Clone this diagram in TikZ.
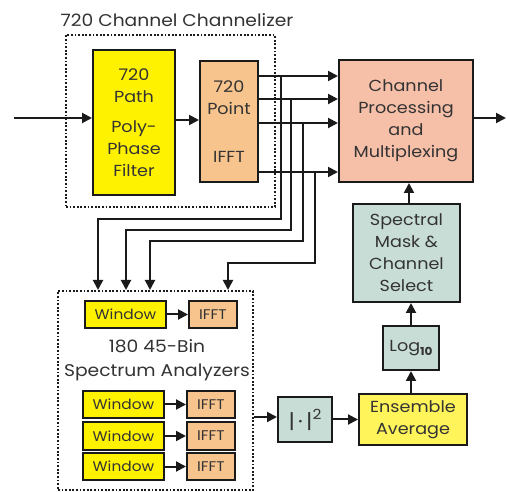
\documentclass[tikz,border=0pt]{standalone}
\usepackage{fontspec}
\setmainfont{Poppins}[FakeStretch=1.1]
\usetikzlibrary{arrows.meta,calc}
\definecolor{yel}{HTML}{FFF200}
\definecolor{yel2}{HTML}{FFF45A}
\definecolor{org}{HTML}{F7C48E}
\definecolor{sal}{HTML}{F6BFA8}
\definecolor{teal}{HTML}{C8DDD6}
\definecolor{txt}{HTML}{333333}
\definecolor{ln}{HTML}{1A1A1A}
\begin{document}
\begin{tikzpicture}[x=1pt,y=-1pt,
  box/.style={draw=ln,line width=2pt,inner sep=0pt,align=center,text=txt,font=\fontsize{16}{22}\selectfont},
  sbox/.style={draw=ln,line width=2pt,inner sep=0pt,align=center,text=txt,font=\fontsize{14}{15}\selectfont,minimum height=27pt},
  arr/.style={draw=ln,line width=2pt,-{Triangle[length=10pt,width=10pt]}},
  dots/.style={draw=ln,line width=2pt,dash pattern=on 1.8pt off 1.8pt},
  lbl/.style={text=txt,font=\fontsize{17}{24}\selectfont,inner sep=0pt,align=center}]
\useasboundingbox (0,0) rectangle (507,492);
% dotted groups
\node[dots,minimum width=209pt,minimum height=172pt,inner sep=0pt] (chan) at (170.5,121) {};
\node[dots,minimum width=195pt,minimum height=199pt,inner sep=0pt] (ana) at (155.5,390.5) {};
\node[lbl] (chant) at (177,20) {720 Channel Channelizer};
\node[lbl] (anat) at (157,360) {180 45-Bin\\Spectrum Analyzers};
% main boxes
\node[box,fill=yel,minimum width=82pt,minimum height=145pt] (pp) at (134,122.5) {720\\Path\\[8pt]Poly-\\Phase\\Filter};
\node[box,fill=org,minimum width=58pt,minimum height=121pt] (ifft) at (229,121.5) {720\\Point\\[26pt]IFFT};
\node[box,fill=sal,minimum width=134pt,minimum height=122pt] (cp) at (406,121) {Channel\\Processing\\and\\Multiplexing};
\node[box,fill=teal,minimum width=107pt,minimum height=98pt] (sm) at (406.5,253) {Spectral\\Mask \&\\Channel\\Select};
\node[box,fill=teal,minimum width=56pt,minimum height=44pt] (log) at (411,348) {Log\raisebox{-4pt}{\fontsize{11}{11}\selectfont\bfseries 10}};
\node[box,fill=yel2,minimum width=108pt,minimum height=51pt] (ea) at (413,419.5) {Ensemble\\Average};
\node[box,fill=teal,minimum width=54pt,minimum height=45pt,font=\fontsize{20}{22}\selectfont] (sq) at (305,419.5) {|\,·\,|\raisebox{9pt}{\fontsize{14}{14}\selectfont 2}};
% small boxes
\node[sbox,fill=yel,minimum width=81pt] (w1) at (125.5,314.5) {Window};
\node[sbox,fill=org,minimum width=48pt] (f1) at (213,314.5) {IFFT};
\node[sbox,fill=yel,minimum width=81pt] (w2) at (123.5,404.5) {Window};
\node[sbox,fill=org,minimum width=48pt] (f2) at (211,404.5) {IFFT};
\node[sbox,fill=yel,minimum width=81pt] (w3) at (123.5,436) {Window};
\node[sbox,fill=org,minimum width=48pt] (f3) at (211,436) {IFFT};
\node[sbox,fill=yel,minimum width=81pt] (w4) at (123.5,466.5) {Window};
\node[sbox,fill=org,minimum width=48pt] (f4) at (211,466.5) {IFFT};
\foreach \i in {1,...,4} {\draw[arr] (w\i) -- (f\i);}
% input / output
\coordinate (in) at (14,118);
\coordinate (out) at (506,118);
\draw[arr] (in) -- (pp.west |- in);
\draw[arr] (pp.east |- 0,120) -- (ifft.west |- 0,120);
\draw[arr] (cp.east |- out) -- (out);
% ifft to cp
\foreach \y in {76,99,123,172} {\draw[arr] (ifft.east |- 0,\y) -- (cp.west |- 0,\y);}
% branches
\coordinate (j1) at (281,76);
\coordinate (j2) at (291,99);
\coordinate (j3) at (303,123);
\coordinate (j4) at (315,172);
\draw[arr] (j1) -- (281,219) -- (98,219) -- (98,219 |- ana.north);
\draw[arr] (j2) -- (291,230) -- (126,230) -- (126,230 |- ana.north);
\draw[arr] (j3) -- (303,241) -- (150,241) -- (150,241 |- ana.north);
\draw[arr] (j4) -- (315,263) -- (228,263) -- (228,263 |- ana.north);
% lower chain
\draw[arr] (ana.east |- 0,417) -- (sq.west |- 0,417);
\draw[arr] (sq) -- (ea);
\draw[arr] (ea.north -| log) -- (log.south);
\draw[arr] (log.north) -- (log.north |- sm.south);
\draw[arr] (sm.north -| 409,0) -- (cp.south -| 409,0);
\end{tikzpicture}
\end{document}
